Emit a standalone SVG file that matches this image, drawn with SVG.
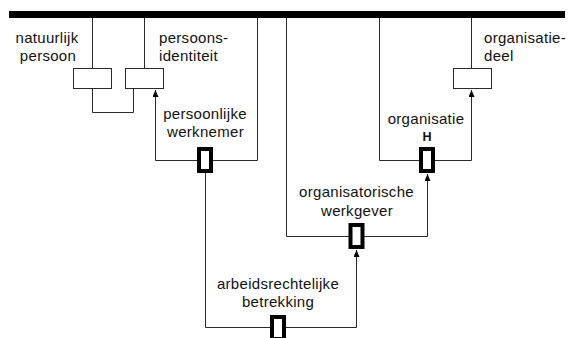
<svg xmlns="http://www.w3.org/2000/svg" width="569" height="338" viewBox="0 0 569 338">
  <style>
    .lbl { font-family: "Liberation Sans", Arial, sans-serif; font-size: 15px; letter-spacing: 0.3px; fill: #111; }
    .mid { text-anchor: middle; }
    .key { font-family: "Liberation Sans", Arial, sans-serif; font-size: 12.5px; font-weight: bold; fill: #111; text-anchor: middle; }
    .ln { fill: none; stroke: #2a2a2a; stroke-width: 1; }
    .box { fill: #fff; stroke: #2a2a2a; stroke-width: 1; }
    .rel { fill: #fff; stroke: #000; stroke-width: 4; }
  </style>
  <defs>
    <marker id="arrow" markerUnits="userSpaceOnUse" markerWidth="8" markerHeight="8" refX="7" refY="3" orient="auto">
      <path d="M0,0 L7,3 L0,6 Z" fill="#000"/>
    </marker>
  </defs>

  <rect id="bar" x="9" y="11" width="556" height="7" fill="#000"/>

  <g id="connectors">
    <path class="ln" d="M92.5,18 V68"/>
    <path class="ln" d="M144.5,18 V68"/>
    <path class="ln" d="M92.5,88 V112.5 H133.5 V88"/>
    <path class="ln" d="M257.5,18 V160.5 H155.5 V90" marker-end="url(#arrow)"/>
    <path class="ln" d="M205.5,173 V327.5 H356.5 V250" marker-end="url(#arrow)"/>
    <path class="ln" d="M286.5,18 V236.5 H427.5 V174" marker-end="url(#arrow)"/>
    <path class="ln" d="M379.5,18 V160.5 H471.5 V90" marker-end="url(#arrow)"/>
    <path class="ln" d="M471.5,18 V68"/>
  </g>

  <g id="natuurlijk-persoon">
    <rect class="box" x="73.5" y="68.5" width="38" height="20"/>
    <text class="lbl mid" x="47" y="43">natuurlijk</text>
    <text class="lbl mid" x="48" y="61">persoon</text>
  </g>

  <g id="persoons-identiteit">
    <rect class="box" x="125.5" y="68.5" width="38" height="20"/>
    <text class="lbl" x="159" y="43">persoons-</text>
    <text class="lbl" x="159" y="61">identiteit</text>
  </g>

  <g id="organisatie-deel">
    <rect class="box" x="453.5" y="68.5" width="38" height="20"/>
    <text class="lbl" x="484" y="43">organisatie-</text>
    <text class="lbl" x="484" y="61">deel</text>
  </g>

  <g id="persoonlijke-werknemer">
    <rect class="rel" x="199" y="149" width="12" height="22"/>
    <text class="lbl mid" x="205" y="119">persoonlijke</text>
    <text class="lbl mid" x="205.5" y="137">werknemer</text>
  </g>

  <g id="organisatie">
    <rect class="rel" x="421" y="149" width="12" height="22"/>
    <text class="lbl mid" x="426" y="124">organisatie</text>
    <text class="key" x="427" y="141">H</text>
  </g>

  <g id="organisatorische-werkgever">
    <rect class="rel" x="350.5" y="225" width="12" height="22"/>
    <text class="lbl mid" x="356.5" y="197">organisatorische</text>
    <text class="lbl mid" x="357" y="216">werkgever</text>
  </g>

  <g id="arbeidsrechtelijke-betrekking">
    <rect class="rel" x="272" y="317" width="12" height="22"/>
    <text class="lbl mid" x="278" y="289">arbeidsrechtelijke</text>
    <text class="lbl mid" x="278" y="307">betrekking</text>
  </g>
</svg>
